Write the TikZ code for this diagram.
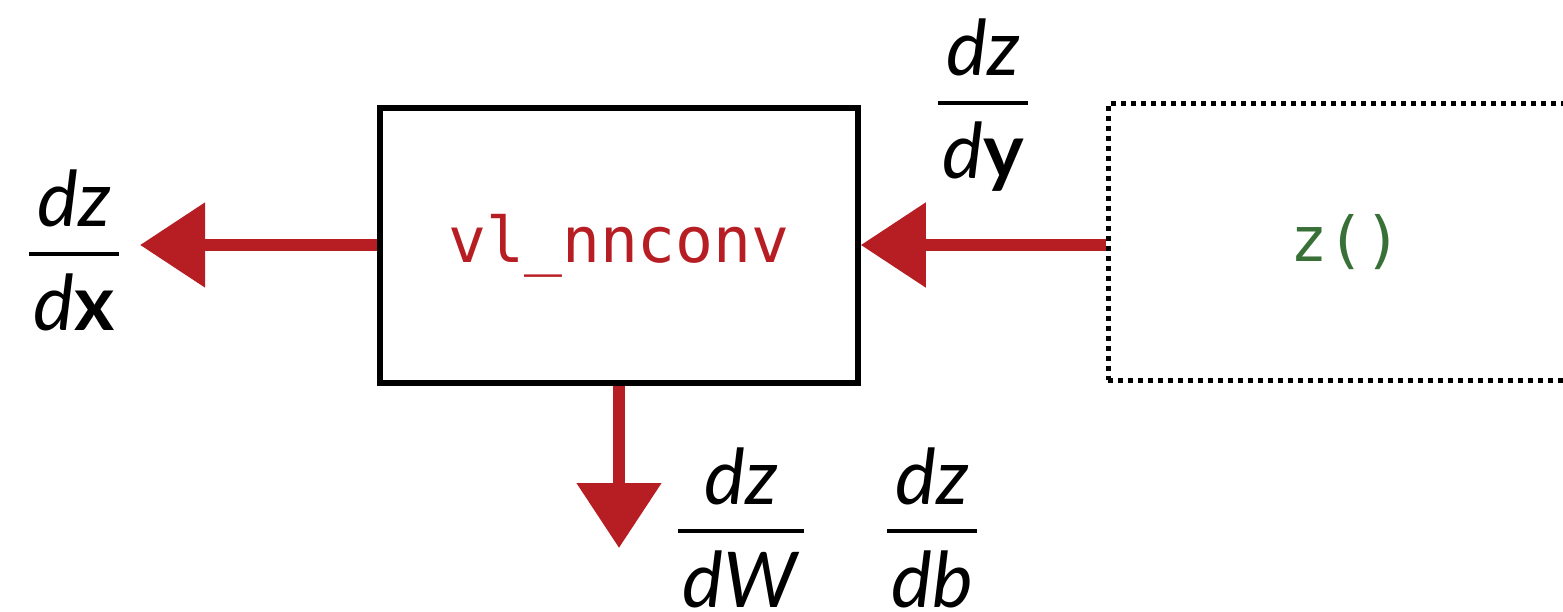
\documentclass[tikz,border=0pt]{standalone}
\usepackage{fontspec}
\setmainfont{Lato}
\setmonofont{DejaVu Sans Mono}
\usetikzlibrary{arrows.meta}
\definecolor{chalkred}{RGB}{183,30,36}
\definecolor{codegreen}{RGB}{56,112,56}
\newcommand\gradfrac[5]{%
  \coordinate (#1b) at (#2,#3);
  \node[fractext, anchor=base] (#1n) at (#2,#3-27) {#4};
  \node[fractext, anchor=base] (#1d) at (#2,#3+76) {#5};
  \draw[fracbar] (#1d.west |- #1b) -- (#1d.east |- #1b);
}
\begin{document}
\begin{tikzpicture}[x=1pt,y=-1pt,
  fractext/.style={inner sep=4pt, font=\fontsize{77}{80}\selectfont},
  fracbar/.style={line width=3.5pt},
  blockbox/.style={draw, line width=5.5pt, minimum width=478pt, minimum height=275pt, inner sep=0pt},
  dotbox/.style={draw, line width=5pt, dash pattern=on 5pt off 5pt, minimum width=476pt, minimum height=276pt, inner sep=0pt},
  gradarrow/.style={draw=chalkred, line width=12pt, -{Triangle[length=65pt,width=82pt]}, chalkred}
]
\useasboundingbox (0,0) rectangle (1563,612);
\node[blockbox] (conv) at (619,245.5) {\fontsize{63}{66}\selectfont\ttfamily\color{chalkred}vl\_nnconv};
\node[dotbox] (zf) at (1346,242) {\fontsize{62}{64}\selectfont\ttfamily\color{codegreen}z()};
\coordinate (xtip) at (140,245);
\coordinate (wtip) at (619,548);
\draw[gradarrow] (conv.west |- xtip) -- (xtip);
\draw[gradarrow] (zf.west |- xtip) -- (conv.east |- xtip);
\draw[gradarrow] (conv.south) -- (wtip);
\gradfrac{fx}{74}{254}{\textit{dz}}{\textit{d}\textbf{x}}
\gradfrac{fy}{983}{103}{\textit{dz}}{\textit{d}\textbf{y}}
\gradfrac{fw}{741}{531}{\textit{dz}}{\textit{dW}}
\gradfrac{fb}{932}{531}{\textit{dz}}{\textit{db}}
\end{tikzpicture}
\end{document}
